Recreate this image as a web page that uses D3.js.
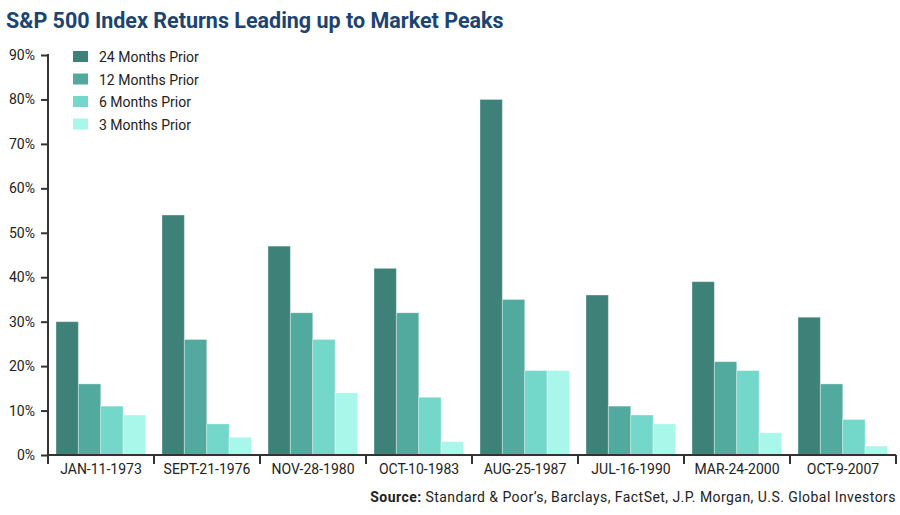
<!DOCTYPE html>
<html>
<head>
<meta charset="utf-8">
<script src="https://cdn.jsdelivr.net/npm/d3@7"></script>
<style>
  body { margin: 0; background: #fff; }
  svg text { font-family: Roboto, "Open Sans", sans-serif; }
</style>
</head>
<body>
<svg width="900" height="515"></svg>
<script>
var categories = ["JAN-11-1973", "SEPT-21-1976", "NOV-28-1980", "OCT-10-1983",
                  "AUG-25-1987", "JUL-16-1990", "MAR-24-2000", "OCT-9-2007"];
var seriesNames = ["24 Months Prior", "12 Months Prior", "6 Months Prior", "3 Months Prior"];
var months24 = [30, 54, 47, 42, 80, 36, 39, 31];
var months12 = [16, 26, 32, 32, 35, 11, 21, 16];
var months6  = [11, 7, 26, 13, 19, 9, 19, 8];
var months3  = [9, 4, 14, 3, 19, 7, 5, 2];
var yTicks = [0, 10, 20, 30, 40, 50, 60, 70, 80, 90];
var colors = ["#3d8179", "#52a99e", "#73d7c9", "#a9f7ea"];

var allSeries = [months24, months12, months6, months3];

var svg = d3.select("svg");
var plotLeft = 48, plotRight = 896, plotTop = 55, plotBottom = 455;

var x0 = d3.scaleBand().domain(categories).range([plotLeft, plotRight]).padding(0);
var x1 = d3.scaleBand().domain(seriesNames).range([8, x0.bandwidth() - 8.5]).padding(0);
var y = d3.scaleLinear().domain([0, 90]).range([plotBottom, plotTop]);

// bars
var groups = svg.append("g").selectAll("g")
    .data(categories)
    .enter().append("g")
    .attr("transform", function (d) { return "translate(" + x0(d) + ",0)"; });

groups.selectAll("rect")
    .data(function (d, i) {
        return seriesNames.map(function (s, j) { return { s: s, j: j, v: allSeries[j][i] }; });
    })
    .enter().append("rect")
    .attr("x", function (d) { return x1(d.s); })
    .attr("width", x1.bandwidth())
    .attr("y", function (d) { return y(d.v); })
    .attr("height", function (d) { return plotBottom - y(d.v); })
    .attr("fill", function (d) { return colors[d.j]; })
    .attr("stroke", "rgba(255,255,255,0.35)")
    .attr("stroke-width", 1);

// y axis
var yAxis = svg.append("g")
    .attr("transform", "translate(" + plotLeft + ",0)")
    .call(d3.axisLeft(y).tickValues(yTicks).tickSize(7).tickPadding(6)
        .tickFormat(function (d) { return d + "%"; }));
yAxis.select(".domain").attr("stroke", "#333").attr("stroke-width", 2)
    .attr("d", "M0," + (plotTop - 1) + "V" + (plotBottom + 1));
yAxis.selectAll(".tick line").attr("stroke", "#333").attr("stroke-width", 2);
yAxis.selectAll(".tick text").attr("font-size", 14).attr("fill", "#222");

// x axis
var xAxis = svg.append("g")
    .attr("transform", "translate(0," + plotBottom + ")")
    .call(d3.axisBottom(x0).tickSize(0).tickPadding(9));
xAxis.select(".domain").attr("stroke", "#333").attr("stroke-width", 2)
    .attr("d", "M" + (plotLeft - 1) + ",0H" + plotRight);
xAxis.selectAll(".tick text").attr("font-size", 14).attr("fill", "#222");

// category boundary ticks
var bounds = categories.map(function (c) { return x0(c); }).concat([plotRight]);
xAxis.selectAll(".bound")
    .data(bounds)
    .enter().append("line")
    .attr("class", "bound")
    .attr("x1", function (d) { return d; })
    .attr("x2", function (d) { return d; })
    .attr("y1", 0).attr("y2", 9)
    .attr("stroke", "#333").attr("stroke-width", 2);

// legend
var legend = svg.append("g").attr("transform", "translate(73,51)");
var li = legend.selectAll("g")
    .data(seriesNames)
    .enter().append("g")
    .attr("transform", function (d, i) { return "translate(0," + (i * 22.5) + ")"; });
li.append("rect")
    .attr("width", 15).attr("height", 11)
    .attr("fill", function (d, i) { return colors[i]; });
li.append("text")
    .attr("x", 26).attr("y", 11)
    .attr("font-size", 14).attr("fill", "#222")
    .text(function (d) { return d; });

// title
svg.append("text")
    .attr("x", 6).attr("y", 28)
    .attr("font-size", 21.5).attr("font-weight", "bold")
    .attr("fill", "#1c4472")
    .text("S&P 500 Index Returns Leading up to Market Peaks");

// source
var src = svg.append("text")
    .attr("x", 896).attr("y", 502)
    .attr("text-anchor", "end")
    .attr("font-size", 14).attr("letter-spacing", 0.45).attr("fill", "#222");
src.append("tspan").attr("font-weight", "bold").text("Source: ");
src.append("tspan").text("Standard & Poor\u2019s, Barclays, FactSet, J.P. Morgan, U.S. Global Investors");
</script>
</body>
</html>
